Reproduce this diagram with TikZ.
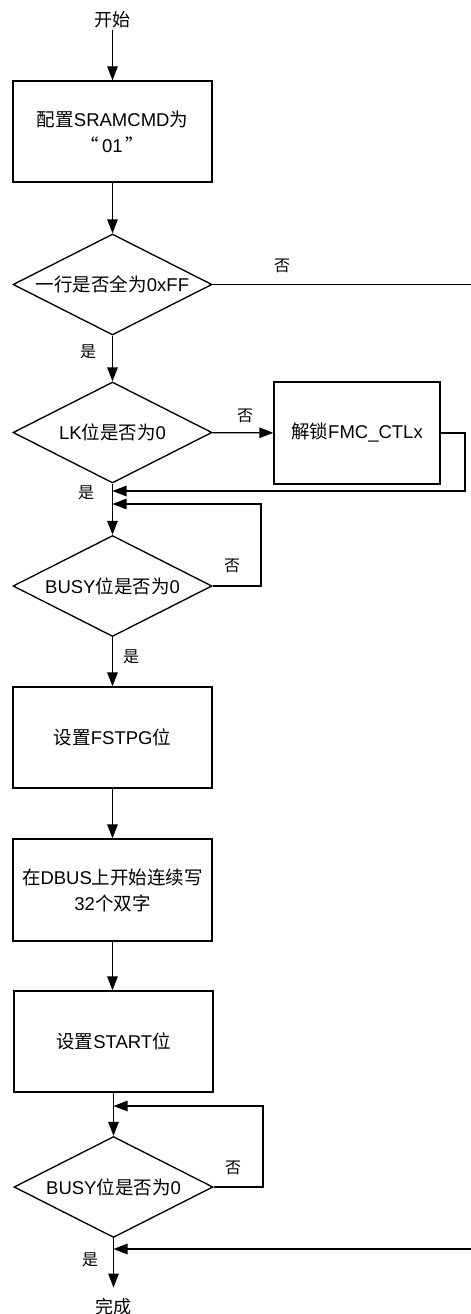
\documentclass[tikz,border=0pt]{standalone}
\usepackage{fontspec}
\setmainfont{Liberation Sans}
\newfontfamily\cjk{Noto Sans CJK SC}
\newcommand\zhtxt[1]{{\cjk #1}}
\usetikzlibrary{arrows.meta,shapes.geometric}
\begin{document}
\begin{tikzpicture}[x=1pt,y=-1pt, line width=1.35pt,
  box/.style={draw, rectangle, minimum width=199pt, minimum height=101pt, inner sep=0pt,
              font=\fontsize{18.5}{26}\selectfont, align=center},
  dia/.style={draw, diamond, minimum width=199pt, minimum height=101pt, inner sep=0pt},
  dtext/.style={font=\fontsize{18.5}{22}\selectfont, inner sep=0pt},
  lbl/.style={font=\cjk\fontsize{16}{18}\selectfont, inner sep=0pt},
  termtop/.style={font=\cjk\fontsize{18}{20}\selectfont, inner sep=1pt},
  termbot/.style={font=\cjk\fontsize{18}{20}\selectfont, inner sep=0pt, outer ysep=11pt},
  arr/.style={-{Triangle[length=14pt,width=10.5pt]}}]
\useasboundingbox (0,0) rectangle (471,1314);

\node[termtop] (start) at (112.5,20) {开始};
\node[box] (b1) at (112.5,131.5) {\zhtxt{配置}SRAMCMD\zhtxt{为}\\\zhtxt{“}\,01\,\zhtxt{”}};
\node[dia, label={[dtext]center:{\zhtxt{一行是否全为}0xFF}}] (d1) at (112.5,284.5) {};
\node[dia, label={[dtext]center:{LK\zhtxt{位是否为}0}}] (d2) at (112.5,432.5) {};
\node[box, minimum width=166pt, minimum height=102pt] (fmc) at (357,433) {\zhtxt{解锁}FMC\_CTLx};
\node[dia, label={[dtext]center:{BUSY\zhtxt{位是否为}0}}] (d3) at (112.5,586) {};
\node[box] (b2) at (112.5,737.5) {\zhtxt{设置}FSTPG\zhtxt{位}};
\node[box, minimum height=102pt] (b3) at (112.5,890) {\zhtxt{在}DBUS\zhtxt{上开始连续写}\\32\zhtxt{个双字}};
\node[box] (b4) at (113.5,1041.5) {\zhtxt{设置}START\zhtxt{位}};
\node[dia, label={[dtext]center:{BUSY\zhtxt{位是否为}0}}] (d4) at (113.5,1187) {};
\node[termbot] (end) at (113.5,1307) {完成};

\coordinate (j1) at (112.5,491);
\coordinate (j2) at (112.5,504);
\coordinate (j3) at (113.5,1106);
\coordinate (j4) at (113.5,1249);
\coordinate (fr) at (465,491);
\coordinate (l1) at (261,504);
\coordinate (l2) at (263,1106);
\coordinate (far) at (478,1249);

\draw[arr] (start) -- (b1);
\draw[arr] (b1) -- (d1);
\draw[arr] (d1) -- (d2);
\draw[arr] (d2) -- (fmc);
\draw[arr] (d2) -- (d3);
\draw[arr] (fmc.east) -| (fr) -- (j1);
\draw[arr] (d3.east) -| (l1) -- (j2);
\draw[arr] (d3) -- (b2);
\draw[arr] (b2) -- (b3);
\draw[arr] (b3.south) -- (b4.north -| b3.south);
\draw[arr] (b4) -- (d4);
\draw[arr] (d4.east) -| (l2) -- (j3);
\draw[arr] (d4) -- (end);
\begin{scope}
  \clip (0,0) rectangle (471,1314);
  \draw[arr] (d1.east) -| (far) -- (j4);
\end{scope}

\node[lbl] (n1) at (282,266) {否};
\node[lbl] (y1) at (88,352) {是};
\node[lbl] (n2) at (245,416) {否};
\node[lbl] (y2) at (86,493) {是};
\node[lbl] (n3) at (232,566) {否};
\node[lbl] (y3) at (131,657) {是};
\node[lbl] (n4) at (233,1168) {否};
\node[lbl] (y4) at (90,1260) {是};
\end{tikzpicture}
\end{document}
